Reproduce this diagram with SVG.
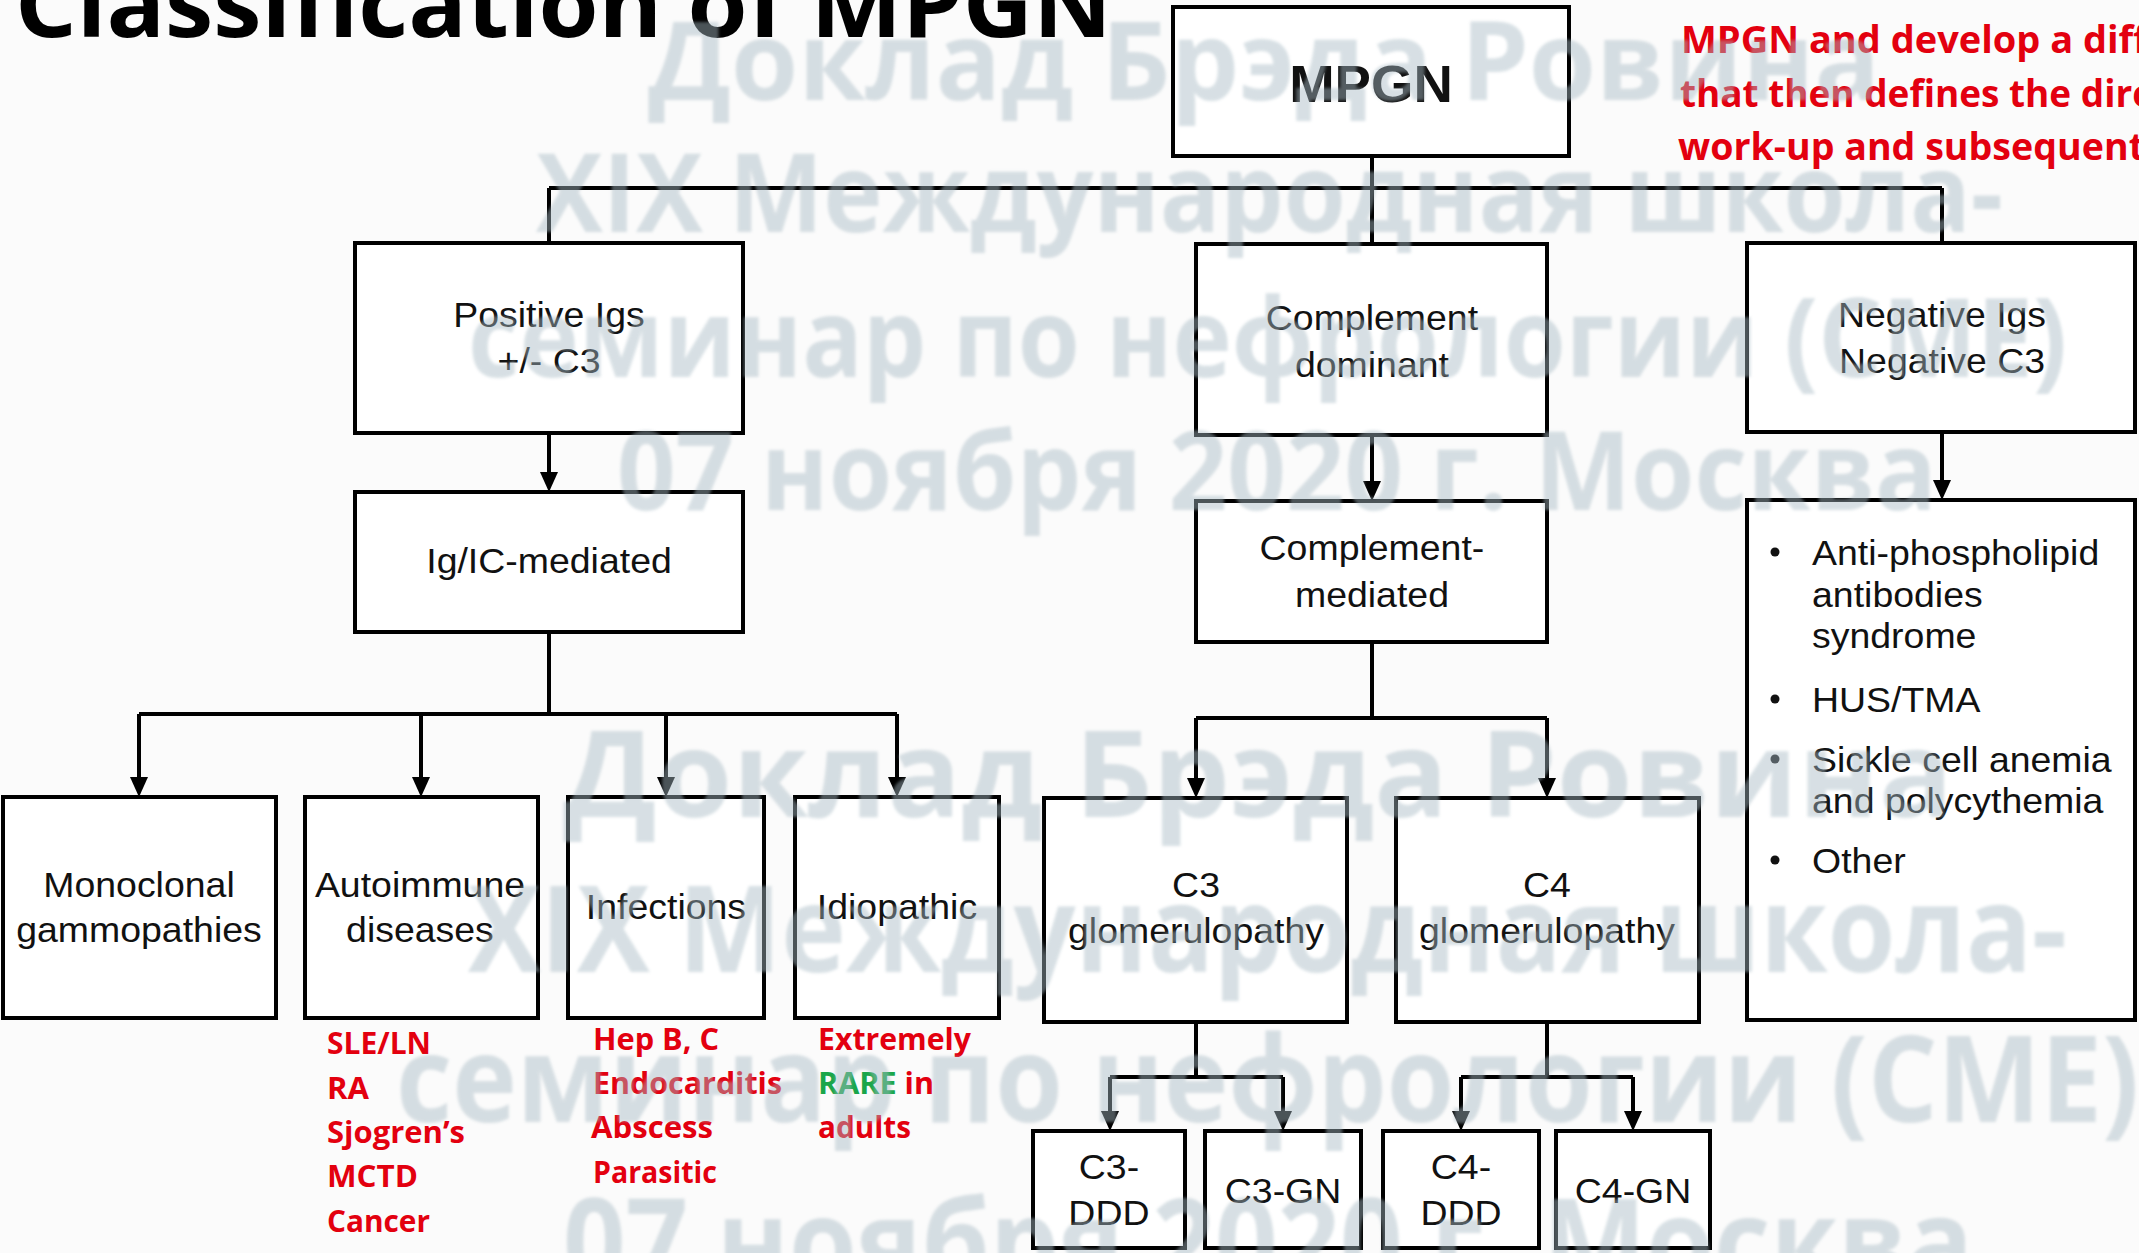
<svg xmlns="http://www.w3.org/2000/svg" width="2139" height="1253" viewBox="0 0 2139 1253">
<defs>
<style>
.box{fill:#ffffff;stroke:#000000;stroke-width:4}
.ln{fill:none;stroke:#000000;stroke-width:4}
.t{font-family:"Liberation Sans",Arial,sans-serif;font-size:35px;fill:#111111;text-anchor:middle}
.tl{font-family:"Liberation Sans",Arial,sans-serif;font-size:35px;fill:#111111;text-anchor:start}
.r{font-family:"Open Sans","Liberation Sans",sans-serif;font-weight:700;font-size:30px;fill:#e3000f}
.g{fill:#1aa64a}
.rt{font-family:"Open Sans","Liberation Sans",sans-serif;font-weight:700;font-size:37px;fill:#e3000f}
.title{font-family:"Open Sans","Liberation Sans",sans-serif;font-weight:700;font-size:92px;fill:#000000}
.wm{font-family:"Open Sans","Liberation Sans",sans-serif;font-weight:700;fill:#a7bac4;opacity:0.45}
</style>
<marker id="arr" markerUnits="userSpaceOnUse" markerWidth="20" markerHeight="18" viewBox="0 0 20 18" refX="0" refY="9" orient="auto">
<path d="M0,0 L20,9 L0,18 z" fill="#000000"/>
</marker>
<filter id="soft" x="-5%" y="-20%" width="110%" height="140%">
<feGaussianBlur stdDeviation="1.6"/>
</filter>
</defs>
<rect x="0" y="0" width="2139" height="1253" fill="#fbfbfb"/>

<text id="title" class="title" x="15" y="37" textLength="1097" lengthAdjust="spacingAndGlyphs">Classification of MPGN</text>

<g id="note">
<text class="rt" x="1681" y="53" textLength="467" lengthAdjust="spacingAndGlyphs">MPGN and develop a diff</text>
<text class="rt" x="1680" y="107" textLength="474" lengthAdjust="spacingAndGlyphs">that then defines the dire</text>
<text class="rt" x="1678" y="160" textLength="467" lengthAdjust="spacingAndGlyphs">work-up and subsequent</text>
</g>

<g id="connectors">
<path class="ln" d="M1372,156 V188 M549,188 H1942 M549,188 V243 M1372,188 V244 M1942,188 V243"/>
<path class="ln" d="M549,433 V472" marker-end="url(#arr)"/>
<path class="ln" d="M1372,435 V481" marker-end="url(#arr)"/>
<path class="ln" d="M1942,432 V480" marker-end="url(#arr)"/>
<path class="ln" d="M549,632 V714 M139,714 H897"/>
<path class="ln" d="M139,714 V777" marker-end="url(#arr)"/>
<path class="ln" d="M421,714 V777" marker-end="url(#arr)"/>
<path class="ln" d="M666,714 V777" marker-end="url(#arr)"/>
<path class="ln" d="M897,714 V777" marker-end="url(#arr)"/>
<path class="ln" d="M1372,642 V718 M1196,718 H1547"/>
<path class="ln" d="M1196,718 V778" marker-end="url(#arr)"/>
<path class="ln" d="M1547,718 V778" marker-end="url(#arr)"/>
<path class="ln" d="M1196,1022 V1077 M1110,1077 H1283"/>
<path class="ln" d="M1110,1077 V1111" marker-end="url(#arr)"/>
<path class="ln" d="M1283,1077 V1111" marker-end="url(#arr)"/>
<path class="ln" d="M1547,1022 V1077 M1461,1077 H1633"/>
<path class="ln" d="M1461,1077 V1111" marker-end="url(#arr)"/>
<path class="ln" d="M1633,1077 V1111" marker-end="url(#arr)"/>
</g>

<g id="n-mpgn">
<rect class="box" x="1173" y="7" width="396" height="149"/>
<text class="t" transform="scale(1.07 1)" x="1281.3" y="102" style="font-weight:700;font-size:51px">MPGN</text>
</g>
<g id="n-positive">
<rect class="box" x="355" y="243" width="388" height="190"/>
<text class="t" transform="scale(1.07 1)" x="513.1" y="327">Positive Igs</text>
<text class="t" transform="scale(1.07 1)" x="513.1" y="373">+/- C3</text>
</g>
<g id="n-igic">
<rect class="box" x="355" y="492" width="388" height="140"/>
<text class="t" transform="scale(1.07 1)" x="513.1" y="573">Ig/IC-mediated</text>
</g>
<g id="n-compdom">
<rect class="box" x="1196" y="244" width="351" height="191"/>
<text class="t" transform="scale(1.07 1)" x="1282.2" y="330">Complement</text>
<text class="t" transform="scale(1.07 1)" x="1282.2" y="377">dominant</text>
</g>
<g id="n-compmed">
<rect class="box" x="1196" y="501" width="351" height="141"/>
<text class="t" transform="scale(1.07 1)" x="1282.2" y="560">Complement-</text>
<text class="t" transform="scale(1.07 1)" x="1282.2" y="607">mediated</text>
</g>
<g id="n-negative">
<rect class="box" x="1747" y="243" width="388" height="189"/>
<text class="t" transform="scale(1.07 1)" x="1815" y="327">Negative Igs</text>
<text class="t" transform="scale(1.07 1)" x="1815" y="373">Negative C3</text>
</g>
<g id="n-other">
<rect class="box" x="1747" y="500" width="388" height="520"/>
<circle cx="1775" cy="552" r="4.5" fill="#111"/>
<circle cx="1775" cy="699" r="4.5" fill="#111"/>
<circle cx="1775" cy="759" r="4.5" fill="#111"/>
<circle cx="1775" cy="860" r="4.5" fill="#111"/>
<text class="tl" transform="scale(1.07 1)" x="1693.5" y="565">Anti-phospholipid</text>
<text class="tl" transform="scale(1.07 1)" x="1693.5" y="607">antibodies</text>
<text class="tl" transform="scale(1.07 1)" x="1693.5" y="648">syndrome</text>
<text class="tl" transform="scale(1.07 1)" x="1693.5" y="712">HUS/TMA</text>
<text class="tl" transform="scale(1.07 1)" x="1693.5" y="772">Sickle cell anemia</text>
<text class="tl" transform="scale(1.07 1)" x="1693.5" y="813">and polycythemia</text>
<text class="tl" transform="scale(1.07 1)" x="1693.5" y="873">Other</text>
</g>
<g id="n-mono">
<rect class="box" x="3" y="797" width="273" height="221"/>
<text class="t" transform="scale(1.07 1)" x="129.9" y="897">Monoclonal</text>
<text class="t" transform="scale(1.07 1)" x="129.9" y="942">gammopathies</text>
</g>
<g id="n-auto">
<rect class="box" x="305" y="797" width="233" height="221"/>
<text class="t" transform="scale(1.07 1)" x="392.5" y="897">Autoimmune</text>
<text class="t" transform="scale(1.07 1)" x="392.5" y="942">diseases</text>
<g class="r">
<text x="327" y="1054" textLength="104" lengthAdjust="spacingAndGlyphs">SLE/LN</text>
<text x="327" y="1099" textLength="42" lengthAdjust="spacingAndGlyphs">RA</text>
<text x="327" y="1143" textLength="138" lengthAdjust="spacingAndGlyphs">Sjogren’s</text>
<text x="327" y="1187" textLength="91" lengthAdjust="spacingAndGlyphs">MCTD</text>
<text x="327" y="1232" textLength="103" lengthAdjust="spacingAndGlyphs">Cancer</text>
</g>
</g>
<g id="n-inf">
<rect class="box" x="568" y="797" width="196" height="221"/>
<text class="t" transform="scale(1.07 1)" x="622.4" y="919">Infections</text>
<g class="r">
<text x="593" y="1050" textLength="126" lengthAdjust="spacingAndGlyphs">Hep B, C</text>
<text x="593" y="1094" textLength="189" lengthAdjust="spacingAndGlyphs">Endocarditis</text>
<text x="591" y="1138" textLength="122" lengthAdjust="spacingAndGlyphs">Abscess</text>
<text x="593" y="1183" textLength="124" lengthAdjust="spacingAndGlyphs">Parasitic</text>
</g>
</g>
<g id="n-idio">
<rect class="box" x="795" y="797" width="204" height="221"/>
<text class="t" transform="scale(1.07 1)" x="838.3" y="919">Idiopathic</text>
<g class="r">
<text x="818" y="1050" textLength="153" lengthAdjust="spacingAndGlyphs">Extremely</text>
<text x="818" y="1094" textLength="116" lengthAdjust="spacingAndGlyphs"><tspan class="g">RARE</tspan> in</text>
<text x="818" y="1138" textLength="93" lengthAdjust="spacingAndGlyphs">adults</text>
</g>
</g>
<g id="n-c3g">
<rect class="box" x="1044" y="798" width="303" height="224"/>
<text class="t" transform="scale(1.07 1)" x="1117.8" y="897">C3</text>
<text class="t" transform="scale(1.07 1)" x="1117.8" y="943">glomerulopathy</text>
</g>
<g id="n-c4g">
<rect class="box" x="1396" y="798" width="303" height="224"/>
<text class="t" transform="scale(1.07 1)" x="1445.8" y="897">C4</text>
<text class="t" transform="scale(1.07 1)" x="1445.8" y="943">glomerulopathy</text>
</g>
<g id="n-c3ddd">
<rect class="box" x="1033" y="1131" width="152" height="117"/>
<text class="t" transform="scale(1.07 1)" x="1036.4" y="1179">C3-</text>
<text class="t" transform="scale(1.07 1)" x="1036.4" y="1225">DDD</text>
</g>
<g id="n-c3gn">
<rect class="box" x="1205" y="1131" width="156" height="117"/>
<text class="t" transform="scale(1.07 1)" x="1199.1" y="1203">C3-GN</text>
</g>
<g id="n-c4ddd">
<rect class="box" x="1383" y="1131" width="156" height="117"/>
<text class="t" transform="scale(1.07 1)" x="1365.4" y="1179">C4-</text>
<text class="t" transform="scale(1.07 1)" x="1365.4" y="1225">DDD</text>
</g>
<g id="n-c4gn">
<rect class="box" x="1556" y="1131" width="154" height="117"/>
<text class="t" transform="scale(1.07 1)" x="1526.2" y="1203">C4-GN</text>
</g>

<g id="watermark" class="wm" filter="url(#soft)">
<text x="648" y="100" font-size="110" textLength="1232" lengthAdjust="spacingAndGlyphs">Доклад Брэда Ровина</text>
<text x="536" y="232" font-size="110" textLength="1467" lengthAdjust="spacingAndGlyphs">XIX Международная школа-</text>
<text x="468" y="377" font-size="110" textLength="1599" lengthAdjust="spacingAndGlyphs">семинар по нефрологии (CME)</text>
<text x="617" y="510" font-size="110" textLength="1320" lengthAdjust="spacingAndGlyphs">07 ноября 2020 г. Москва</text>
<text x="563" y="817" font-size="120" textLength="1390" lengthAdjust="spacingAndGlyphs">Доклад Брэда Ровина</text>
<text x="468" y="972" font-size="120" textLength="1599" lengthAdjust="spacingAndGlyphs">XIX Международная школа-</text>
<text x="396" y="1122" font-size="120" textLength="1743" lengthAdjust="spacingAndGlyphs">семинар по нефрологии (CME)</text>
<text x="563" y="1285" font-size="120" textLength="1410" lengthAdjust="spacingAndGlyphs">07 ноября 2020 г. Москва</text>
</g>
</svg>
